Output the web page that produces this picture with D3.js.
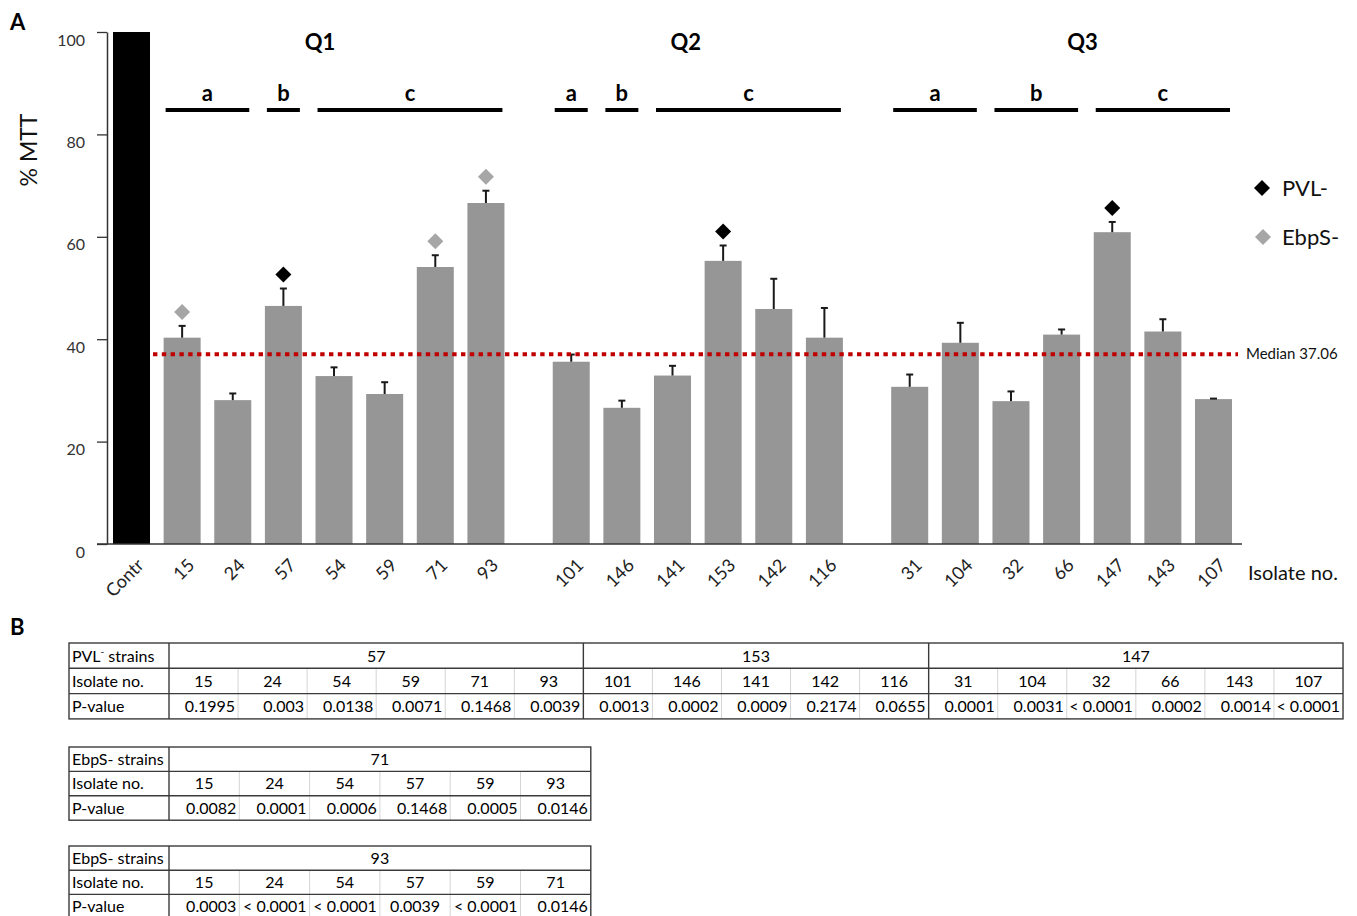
<!DOCTYPE html>
<html>
<head>
<meta charset="utf-8">
<script src="https://cdn.jsdelivr.net/npm/d3@7"></script>
<style>
  html, body { margin: 0; padding: 0; background: #fff; }
  svg { display: block; }
</style>
</head>
<body>
<script>
// ---- MTT viability per isolate (% of control), grouped by quartile ----
const isolates  = ["Contr","15","24","57","54","59","71","93","101","146","141","153","142","116","31","104","32","66","147","143","107"];
const quartiles = ["",     "Q1","Q1","Q1","Q1","Q1","Q1","Q1","Q2","Q2","Q2","Q2","Q2","Q2","Q3","Q3","Q3","Q3","Q3","Q3","Q3"];
const mttMean   = [100, 40.3, 28.1, 46.5, 32.8, 29.3, 54.1, 66.6, 35.6, 26.6, 32.9, 55.3, 45.9, 40.3, 30.7, 39.3, 27.9, 40.9, 60.9, 41.5, 28.3];
const mttError  = [0,   2.3,  1.3,  3.4,  1.7,  2.3,  2.3,  2.4,  1.4,  1.4,  1.9,  3.0,  5.9,  5.8,  2.4,  3.9,  1.9,  1.0,  2.0,  2.4,  0.1];
const deficiency = [null,"EbpS-",null,"PVL-",null,null,"EbpS-","EbpS-",null,null,null,"PVL-",null,null,null,null,null,null,"PVL-",null,null];
const medianMTT = 37.06;
const yTicks = [0, 20, 40, 60, 80, 100];

// sub-groups a/b/c inside each quartile
const subQuartile = ["Q1","Q1","Q1","Q2","Q2","Q2","Q3","Q3","Q3"];
const subLabel    = ["a","b","c","a","b","c","a","b","c"];
const subFirst    = ["15","57","54","101","146","141","31","32","147"];
const subLast     = ["24","57","93","101","146","116","104","66","107"];

// ---- p-value tables ----
const pvlRefs     = ["57","153","147"];
const pvlIsolates = [["15","24","54","59","71","93"],["101","146","141","142","116"],["31","104","32","66","143","107"]];
const pvlPvalues  = [["0.1995","0.003","0.0138","0.0071","0.1468","0.0039"],
                     ["0.0013","0.0002","0.0009","0.2174","0.0655"],
                     ["0.0001","0.0031","< 0.0001","0.0002","0.0014","< 0.0001"]];
const ebps71Isolates = ["15","24","54","57","59","93"];
const ebps71Pvalues  = ["0.0082","0.0001","0.0006","0.1468","0.0005","0.0146"];
const ebps93Isolates = ["15","24","54","57","59","71"];
const ebps93Pvalues  = ["0.0003","< 0.0001","< 0.0001","0.0039","< 0.0001","0.0146"];

// ---------------------------------------------------------------
const W = 1357, H = 916;
const FONT = "Lato, 'Open Sans', sans-serif";
const svg = d3.select("body").append("svg")
  .attr("width", W).attr("height", H)
  .style("font-family", FONT);

const BAR_W = 37, GROUP_GAP = 0.685;
const qIndex = q => q === "" ? 0 : +q.slice(1);
const slot = i => i + GROUP_GAP * Math.max(0, qIndex(quartiles[i]) - 1);
const lastSlot = slot(isolates.length - 1);

const x = d3.scaleLinear().domain([0, lastSlot]).range([131.5, 1213.5]);
const y = d3.scaleLinear().domain([0, 100]).range([544, 32]);
const cx = name => x(slot(isolates.indexOf(name)));

const bars = isolates.map((name, i) => ({
  name, q: quartiles[i], v: mttMean[i], e: mttError[i], def: deficiency[i], cx: x(slot(i))
}));

// panel letters
svg.append("text").attr("x", 10).attr("y", 30).text("A")
  .attr("font-weight", 700).attr("font-size", 22);
svg.append("text").attr("x", 10).attr("y", 635).text("B")
  .attr("font-weight", 700).attr("font-size", 22);

// y axis
const yAxis = svg.append("g").attr("transform", "translate(107,0)")
  .call(d3.axisLeft(y).tickValues(yTicks).tickSize(10).tickSizeOuter(0).tickPadding(12));
yAxis.select(".domain").attr("stroke", "#333").attr("stroke-width", 1.5);
yAxis.selectAll(".tick line").attr("stroke", "#333").attr("stroke-width", 1.3);
yAxis.selectAll(".tick text").attr("y", 8).attr("font-size", 16)
  .attr("font-family", FONT).attr("fill", "#333");

svg.append("text")
  .attr("transform", "translate(37,150) rotate(-90)")
  .attr("text-anchor", "middle").attr("font-size", 23).attr("fill", "#111")
  .text("% MTT");

// bars
svg.append("g").selectAll("rect").data(bars).join("rect")
  .attr("x", d => d.cx - BAR_W / 2).attr("width", BAR_W)
  .attr("y", d => y(d.v)).attr("height", d => y(0) - y(d.v))
  .attr("fill", d => d.name === "Contr" ? "#000" : "#969696");

// x axis baseline
svg.append("line")
  .attr("x1", 97).attr("x2", 1242).attr("y1", y(0)).attr("y2", y(0))
  .attr("stroke", "#333").attr("stroke-width", 1.5);

// error bars
const err = svg.append("g").attr("stroke", "#1a1a1a").attr("stroke-width", 2);
const withErr = bars.filter(d => d.e > 0);
err.selectAll("line.v").data(withErr).join("line").attr("class", "v")
  .attr("x1", d => d.cx).attr("x2", d => d.cx)
  .attr("y1", d => y(d.v)).attr("y2", d => y(d.v + d.e));
err.selectAll("line.c").data(withErr).join("line").attr("class", "c")
  .attr("x1", d => d.cx - 3.5).attr("x2", d => d.cx + 3.5)
  .attr("y1", d => y(d.v + d.e)).attr("y2", d => y(d.v + d.e));

// median line
svg.append("line")
  .attr("x1", 153).attr("x2", 1238)
  .attr("y1", y(medianMTT)).attr("y2", y(medianMTT))
  .attr("stroke", "#c00000").attr("stroke-width", 4)
  .attr("stroke-dasharray", "4.4 4.4");
svg.append("text").attr("x", 1246).attr("y", y(medianMTT) + 5)
  .attr("font-size", 15).attr("fill", "#111")
  .text("Median " + medianMTT.toFixed(2));

// deficiency markers
const diamond = d3.symbol().type(d3.symbolSquare).size(128);
const defColor = { "PVL-": "#000", "EbpS-": "#a6a6a6" };
svg.append("g").selectAll("path").data(bars.filter(d => d.def)).join("path")
  .attr("d", diamond)
  .attr("transform", d => `translate(${d.cx},${y(d.v + d.e) - 14}) rotate(45)`)
  .attr("fill", d => defColor[d.def]);

// legend
const legend = svg.append("g");
["PVL-", "EbpS-"].forEach((k, i) => {
  legend.append("path").attr("d", diamond)
    .attr("transform", `translate(${1262 + i},${188 + i * 49}) rotate(45)`)
    .attr("fill", defColor[k]);
  legend.append("text").attr("x", 1282).attr("y", 196 + i * 49)
    .attr("font-size", 22).attr("fill", "#111").text(k);
});

// x tick labels
svg.append("g").selectAll("text").data(bars).join("text")
  .attr("transform", d => `translate(${d.cx + 9},${562}) rotate(-45)`)
  .attr("text-anchor", "end").attr("dy", "0.35em")
  .attr("font-size", 18).attr("fill", "#222")
  .text(d => d.name);
svg.append("text").attr("x", 1248).attr("y", 580)
  .attr("font-size", 20).attr("fill", "#111").text("Isolate no.");

// sub-group brackets a/b/c
const subs = subLabel.map((lab, i) => ({
  lab, x1: cx(subFirst[i]) - BAR_W / 2 + 2, x2: cx(subLast[i]) + BAR_W / 2 - 2
}));
svg.append("g").selectAll("line").data(subs).join("line")
  .attr("x1", d => d.x1).attr("x2", d => d.x2).attr("y1", 110).attr("y2", 110)
  .attr("stroke", "#000").attr("stroke-width", 4);
svg.append("g").selectAll("text").data(subs).join("text")
  .attr("x", d => (d.x1 + d.x2) / 2).attr("y", 101)
  .attr("text-anchor", "middle").attr("font-weight", 700).attr("font-size", 22)
  .text(d => d.lab);

// quartile titles, set over the middle of each quartile's bars
const qNudge = { Q1: -14, Q2: -12, Q3: 21 };
["Q1", "Q2", "Q3"].forEach(q => {
  const members = bars.filter(d => d.q === q);
  const mid = (members[0].cx + members[members.length - 1].cx) / 2;
  svg.append("text").attr("x", mid + qNudge[q]).attr("y", 50)
    .attr("text-anchor", "middle").attr("font-weight", 700).attr("font-size", 22)
    .text(q);
});

// ---- tables ----
function drawTable(opt) {
  const g = svg.append("g").attr("font-size", 16).attr("fill", "#000");
  const { x0, y0, firstW, colW, rowH, groups } = opt;
  const nCols = d3.sum(groups, gr => gr.isolates.length);
  const right = x0 + firstW + nCols * colW;
  const yr = i => y0 + i * rowH;
  const base = i => yr(i) + rowH - 6.5;
  const dark = "#3a3a3a", light = "#d4d4d4";

  let c = 0;
  const groupEdges = [];
  groups.forEach(gr => {
    gr.isolates.forEach((iso, j) => {
      const cx0 = x0 + firstW + (c + j) * colW;
      // light separators between isolate columns (rows 2-3)
      if (j > 0) g.append("line").attr("x1", cx0).attr("x2", cx0)
        .attr("y1", yr(1)).attr("y2", yr(3)).attr("stroke", light).attr("stroke-width", 1);
      g.append("text").attr("x", cx0 + colW / 2).attr("y", base(1))
        .attr("text-anchor", "middle").text(iso);
      const al = gr.align ? gr.align[j] : "end";
      g.append("text")
        .attr("x", al === "middle" ? cx0 + colW / 2 : cx0 + colW - 3)
        .attr("y", base(2))
        .attr("text-anchor", al).text(gr.pvalues[j]);
    });
    const gx0 = x0 + firstW + c * colW;
    const gx1 = gx0 + gr.isolates.length * colW;
    g.append("text").attr("x", (gx0 + gx1) / 2).attr("y", base(0))
      .attr("text-anchor", "middle").text(gr.ref);
    c += gr.isolates.length;
    groupEdges.push(gx1);
  });

  // row header texts
  const hdr = g.append("text").attr("x", x0 + 3).attr("y", base(0));
  if (opt.headSup) {
    hdr.append("tspan").text(opt.head);
    hdr.append("tspan").attr("dy", -7).attr("font-size", 10).text("-");
    hdr.append("tspan").attr("dy", 7).text(" " + opt.headTail);
  } else {
    hdr.text(opt.head);
  }
  g.append("text").attr("x", x0 + 3).attr("y", base(1)).text("Isolate no.");
  g.append("text").attr("x", x0 + 3).attr("y", base(2)).text("P-value");

  // dark frame lines
  const lines = g.append("g").attr("stroke", dark).attr("stroke-width", 1.4).attr("fill", "none");
  lines.append("rect").attr("x", x0).attr("y", y0).attr("width", right - x0).attr("height", 3 * rowH);
  [1, 2].forEach(r => lines.append("line").attr("x1", x0).attr("x2", right).attr("y1", yr(r)).attr("y2", yr(r)));
  lines.append("line").attr("x1", x0 + firstW).attr("x2", x0 + firstW).attr("y1", y0).attr("y2", yr(3));
  groupEdges.slice(0, -1).forEach(ex =>
    lines.append("line").attr("x1", ex).attr("x2", ex).attr("y1", y0).attr("y2", yr(3)));
}

drawTable({
  x0: 69, y0: 643, firstW: 100, colW: 69.06, rowH: 25.3,
  head: "PVL", headSup: true, headTail: "strains",
  groups: pvlRefs.map((r, i) => ({ ref: r, isolates: pvlIsolates[i], pvalues: pvlPvalues[i] }))
});
drawTable({
  x0: 69, y0: 747, firstW: 100, colW: 70.3, rowH: 24.4,
  head: "EbpS- strains",
  groups: [{ ref: "71", isolates: ebps71Isolates, pvalues: ebps71Pvalues }]
});
drawTable({
  x0: 69, y0: 846, firstW: 100, colW: 70.3, rowH: 24.2,
  head: "EbpS- strains",
  groups: [{ ref: "93", isolates: ebps93Isolates, pvalues: ebps93Pvalues,
             align: ["end", "end", "end", "middle", "end", "end"] }]
});
</script>
</body>
</html>
